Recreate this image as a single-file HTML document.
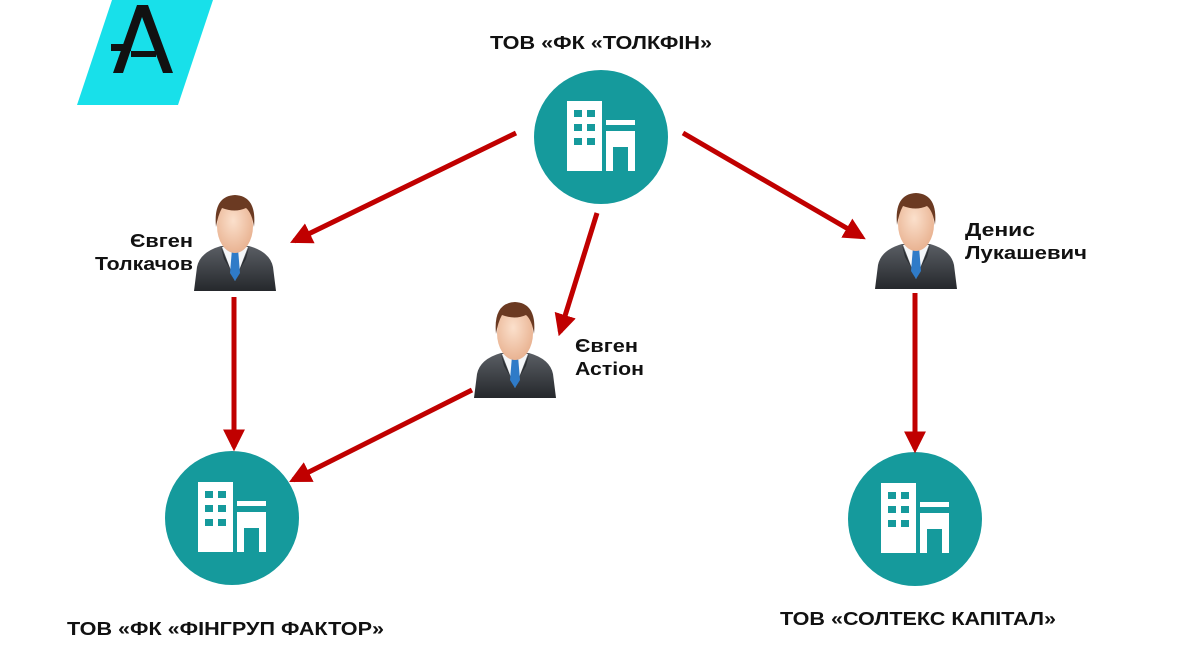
<!DOCTYPE html>
<html><head><meta charset="utf-8"><style>
html,body{margin:0;padding:0;background:#fff;}
svg{display:block;}
text{font-family:"Liberation Sans",sans-serif;font-weight:bold;font-size:18px;fill:#111;}
</style></head><body>
<svg width="1197" height="645" viewBox="0 0 1197 645" xmlns="http://www.w3.org/2000/svg">
<defs>
<linearGradient id="suit" x1="0" y1="0" x2="0" y2="1"><stop offset="0" stop-color="#5a5e64"/><stop offset="1" stop-color="#25282c"/></linearGradient>
<radialGradient id="skin" cx="0.45" cy="0.4" r="0.6"><stop offset="0" stop-color="#fbe0cc"/><stop offset="1" stop-color="#e9b392"/></radialGradient>
<marker id="ah" viewBox="0 0 10 10" refX="8" refY="5" markerWidth="4.4" markerHeight="4.4" orient="auto" markerUnits="strokeWidth"><path d="M0,0 L10,5 L0,10 Z" fill="#c00000"/></marker>
<g id="bld">
<rect x="-34" y="-36" width="35" height="70" fill="#fff"/>
<rect x="-27" y="-27" width="8" height="7" fill="#159a9c"/><rect x="-14" y="-27" width="8" height="7" fill="#159a9c"/>
<rect x="-27" y="-13" width="8" height="7" fill="#159a9c"/><rect x="-14" y="-13" width="8" height="7" fill="#159a9c"/>
<rect x="-27" y="1" width="8" height="7" fill="#159a9c"/><rect x="-14" y="1" width="8" height="7" fill="#159a9c"/>
<rect x="5" y="-17" width="29" height="5" fill="#fff"/>
<rect x="5" y="-6" width="29" height="40" fill="#fff"/>
<rect x="12" y="10" width="15" height="24" fill="#159a9c"/>
</g>
<g id="per">
<path d="M-41,96 L-38,72 Q-35,57 -14,51 L14,51 Q35,57 38,72 L41,96 Z" fill="url(#suit)"/>
<rect x="-7" y="44" width="14" height="10" fill="#e2a888"/>
<path d="M-13,52 L13,52 L0,86 Z" fill="#f4f6f8"/>
<path d="M-3,54 L3,54 L5,78 L0,86 L-5,78 Z" fill="#2f7bc8"/>
<path d="M-14,52 L-5,74 L-11,64 Z M14,52 L5,74 L11,64Z" fill="#2a2d31"/>
<ellipse cx="0" cy="31" rx="18" ry="27" fill="url(#skin)"/>
<path d="M-19,32 Q-22,1 0,0 Q22,1 19,32 Q17,18 11,13 Q0,18 -13,13 Q-17,20 -19,32Z" fill="#6b3a22"/>
</g>
</defs>
<polygon points="112,0 213,0 178,105 77,105" fill="#18e0ea"/>
<polygon points="113,73 137,5 148,5 173,73 163,73 142,17 123,73" fill="#111"/>
<rect x="111" y="44" width="20" height="7" fill="#111"/><rect x="131" y="51" width="25" height="6" fill="#111"/>
<text x="601" y="49" text-anchor="middle" textLength="222" lengthAdjust="spacingAndGlyphs">ТОВ «ФК «ТОЛКФІН»</text>
<circle cx="601" cy="137" r="67" fill="#159a9c"/>
<use href="#bld" x="601" y="137"/>
<circle cx="232" cy="518" r="67" fill="#159a9c"/>
<use href="#bld" x="232" y="518"/>
<circle cx="915" cy="519" r="67" fill="#159a9c"/>
<use href="#bld" x="915" y="519"/>
<g stroke="#c00000" stroke-width="5" fill="none" marker-end="url(#ah)">
<line x1="516" y1="133" x2="294" y2="241"/>
<line x1="597" y1="213" x2="560" y2="332"/>
<line x1="683" y1="133" x2="862" y2="237"/>
<line x1="234" y1="297" x2="234" y2="447"/>
<line x1="472" y1="390" x2="293" y2="480"/>
<line x1="915" y1="293" x2="915" y2="449"/>
</g>
<use href="#per" x="235" y="195"/>
<use href="#per" x="515" y="302"/>
<use href="#per" x="916" y="193"/>
<text x="193" y="247" text-anchor="end" textLength="63" lengthAdjust="spacingAndGlyphs">Євген</text>
<text x="193" y="270" text-anchor="end" textLength="98" lengthAdjust="spacingAndGlyphs">Толкачов</text>
<text x="575" y="352" textLength="63" lengthAdjust="spacingAndGlyphs">Євген</text>
<text x="575" y="375" textLength="69" lengthAdjust="spacingAndGlyphs">Астіон</text>
<text x="965" y="236" textLength="70" lengthAdjust="spacingAndGlyphs">Денис</text>
<text x="965" y="259" textLength="122" lengthAdjust="spacingAndGlyphs">Лукашевич</text>
<text x="67" y="635" textLength="317" lengthAdjust="spacingAndGlyphs">ТОВ «ФК «ФІНГРУП ФАКТОР»</text>
<text x="780" y="625" textLength="276" lengthAdjust="spacingAndGlyphs">ТОВ «СОЛТЕКС КАПІТАЛ»</text>
</svg>
</body></html>
